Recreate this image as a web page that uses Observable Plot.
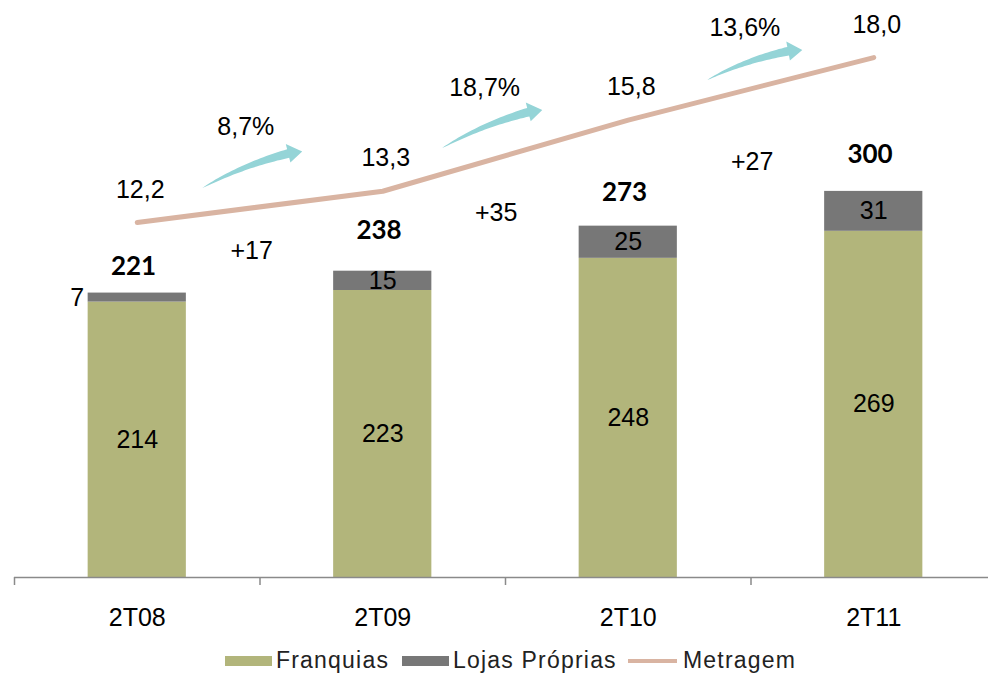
<!DOCTYPE html>
<html><head><meta charset="utf-8">
<script src="https://cdn.jsdelivr.net/npm/d3@7"></script>
<script src="https://cdn.jsdelivr.net/npm/@observablehq/plot@0.6"></script>
<style>
body{margin:0;background:#fff;}
#wrap{position:relative;width:988px;height:676px;font-family:"Liberation Sans",Arial,sans-serif;overflow:hidden;}
#legend{position:absolute;top:645px;left:0;width:988px;height:31px;}
.item{position:absolute;top:0;height:31px;display:flex;align-items:center;font-size:23px;letter-spacing:1.2px;color:#222;white-space:nowrap;}
.sw{width:47px;height:10px;margin-right:4px;}
.ln{width:49px;height:4px;margin-right:6px;}
</style></head><body>
<div id="wrap"><div id="chart"></div><div id="legend"></div></div>
<script>
// ---- data ----
const categories = ["2T08", "2T09", "2T10", "2T11"];
const franquias = [214, 223, 248, 269];
const lojasProprias = [7, 15, 25, 31];
const totals = [221, 238, 273, 300];
const metragem = [12.2, 13.3, 15.8, 18.0];
const metragemLabels = ["12,2", "13,3", "15,8", "18,0"];
const deltas = ["+17", "+35", "+27"];
const growth = ["8,7%", "18,7%", "13,6%"];
const seriesNames = ["Franquias", "Lojas Próprias", "Metragem"];

// ---- annotation layout (in scale units) ----
const totalLabelY = [241.6, 269.6, 299.1, 328.7];
const deltaPos = [{x: 0.466, y: 254}, {x: 1.462, y: 283}, {x: 2.505, y: 323}];
const growthPos = [{x: 0.442, y: 350.4}, {x: 1.415, y: 380}, {x: 2.475, y: 426.6}];
const arrowPos = [
  {x1: 0.267, y1: 302.2, x2: 0.674, y2: 330.6},
  {x1: 1.244, y1: 333.3, x2: 1.652, y2: 362.9},
  {x1: 2.324, y1: 386.2, x2: 2.711, y2: 409.5}
];

const colors = {fr: "#b2b57b", lp: "#777777", met: "#d9b4a2", arrow: "#94d4d7"};
const font = "'Liberation Sans', Arial, sans-serif";
const boldFont = "Lato, 'Open Sans', sans-serif";
const fs = 25;

// secondary axis for Metragem mapped into the primary y units
const metScale = d3.scaleLinear().domain([0, 20]).range([6.2, 448.2]);

const bars = [];
categories.forEach((c, i) => {
  bars.push({i, series: "Franquias", y1: 0, y2: franquias[i], v: franquias[i]});
  bars.push({i, series: "Lojas Próprias", y1: franquias[i], y2: franquias[i] + lojasProprias[i], v: lojasProprias[i]});
});
const fr = bars.filter(d => d.series === "Franquias");
const lp = bars.filter(d => d.series === "Lojas Próprias");
const line = metragem.map((v, i) => ({i, u: metScale(v), label: metragemLabels[i]}));

function arrowMark(index, scales) {
  const g = d3.create("svg:g");
  for (const a of arrowPos) {
    const P0 = [scales.x(a.x1), scales.y(a.y1)];
    const P2 = [scales.x(a.x2), scales.y(a.y2)];
    const dx = P2[0] - P0[0], dy = P2[1] - P0[1];
    const L = Math.hypot(dx, dy);
    const n = [dy / L, -dx / L]; // upward normal
    const bend = 8;
    const C = [(P0[0] + P2[0]) / 2 + n[0] * bend, (P0[1] + P2[1]) / 2 + n[1] * bend];
    const pt = t => [
      (1 - t) * (1 - t) * P0[0] + 2 * (1 - t) * t * C[0] + t * t * P2[0],
      (1 - t) * (1 - t) * P0[1] + 2 * (1 - t) * t * C[1] + t * t * P2[1]
    ];
    const tan = t => {
      const tx = 2 * (1 - t) * (C[0] - P0[0]) + 2 * t * (P2[0] - C[0]);
      const ty = 2 * (1 - t) * (C[1] - P0[1]) + 2 * t * (P2[1] - C[1]);
      const l = Math.hypot(tx, ty);
      return [tx / l, ty / l];
    };
    const tb = 1 - 14 / L;
    const wMax = 5.5, hw = 11;
    const upper = [], lower = [];
    const N = 30;
    for (let k = 0; k <= N; k++) {
      const t = tb * k / N;
      const p = pt(t), T = tan(t), nn = [T[1], -T[0]];
      const w = wMax * Math.pow(k / N, 0.75);
      upper.push([p[0] + nn[0] * w, p[1] + nn[1] * w]);
      lower.push([p[0] - nn[0] * w * 0.6, p[1] - nn[1] * w * 0.6]);
    }
    const pb = pt(tb), Tb = tan(tb), nb = [Tb[1], -Tb[0]];
    const wingU = [pb[0] + nb[0] * hw, pb[1] + nb[1] * hw];
    const wingL = [pb[0] - nb[0] * hw * 0.75, pb[1] - nb[1] * hw * 0.75];
    const pts = [...upper, wingU, P2, wingL, ...lower.reverse()];
    g.append("path")
      .attr("d", "M" + pts.map(p => p[0].toFixed(1) + "," + p[1].toFixed(1)).join("L") + "Z")
      .attr("fill", colors.arrow);
  }
  return g.node();
}

const chart = Plot.plot({
  width: 988,
  height: 645,
  marginTop: 0,
  marginLeft: 14,
  marginRight: 0,
  marginBottom: 68,
  style: {fontFamily: font, background: "#fff", overflow: "visible"},
  x: {domain: [-0.5, 3.5], range: [14, 996], axis: null, label: null},
  y: {domain: [0, 450], range: [577, 577 - 450 * 1.287], axis: null, label: null},
  marks: [
    Plot.rect(bars, {x1: d => d.i - 0.2, x2: d => d.i + 0.2, y1: "y1", y2: "y2",
      fill: d => d.series === "Franquias" ? colors.fr : colors.lp}),
    Plot.ruleY([0], {stroke: "#8a8a8a", strokeWidth: 1.5}),
    Plot.axisX([-0.5, 0.5, 1.5, 2.5], {tickSize: 8, tickFormat: () => "", label: null, stroke: "#8a8a8a", strokeWidth: 1.5}),
    Plot.text(categories, {x: (d, i) => i, y: 0, dy: 40, text: d => d, fontSize: fs, fill: "#000"}),
    // Franquias labels
    Plot.text(fr, {x: "i", y: d => d.v / 2, text: d => String(d.v), fontSize: fs, fill: "#000"}),
    // Lojas Próprias labels
    Plot.text(lp.filter(d => d.v >= 10), {x: "i", y: d => (d.y1 + d.y2) / 2, text: d => String(d.v), fontSize: fs, fill: "#000"}),
    Plot.text(lp.filter(d => d.v < 10), {x: d => d.i - 0.2, y: d => (d.y1 + d.y2) / 2, dx: -4, textAnchor: "end", text: d => String(d.v), fontSize: fs, fill: "#000"}),
    // totals
    Plot.text(totals, {x: (d, i) => i - 0.015, y: (d, i) => totalLabelY[i], text: d => String(d), fontSize: 26, fontWeight: "bold", fontFamily: boldFont, fill: "#000"}),
    // deltas
    Plot.text(deltas, {x: (d, i) => deltaPos[i].x, y: (d, i) => deltaPos[i].y, text: d => d, fontSize: fs, fill: "#000"}),
    // Metragem line
    Plot.line(line, {x: "i", y: "u", stroke: colors.met, strokeWidth: 5, strokeLinecap: "round", strokeLinejoin: "round"}),
    Plot.text(line, {x: "i", y: "u", dx: 3, dy: -33, text: "label", fontSize: fs, fill: "#000"}),
    // growth arrows and labels
    arrowMark,
    Plot.text(growth, {x: (d, i) => growthPos[i].x, y: (d, i) => growthPos[i].y, text: d => d, fontSize: fs, fill: "#000"})
  ]
});
document.getElementById("chart").appendChild(chart);

// legend
const legend = document.getElementById("legend");
const items = [
  {name: seriesNames[0], left: 225, html: `<div class="sw" style="background:${colors.fr}"></div>`},
  {name: seriesNames[1], left: 402, html: `<div class="sw" style="background:${colors.lp}"></div>`},
  {name: seriesNames[2], left: 628, html: `<div class="ln" style="background:${colors.met}"></div>`}
];
for (const it of items) {
  const d = document.createElement("div");
  d.className = "item";
  d.style.left = it.left + "px";
  d.innerHTML = it.html + `<span>${it.name}</span>`;
  legend.appendChild(d);
}
</script>
</body></html>
